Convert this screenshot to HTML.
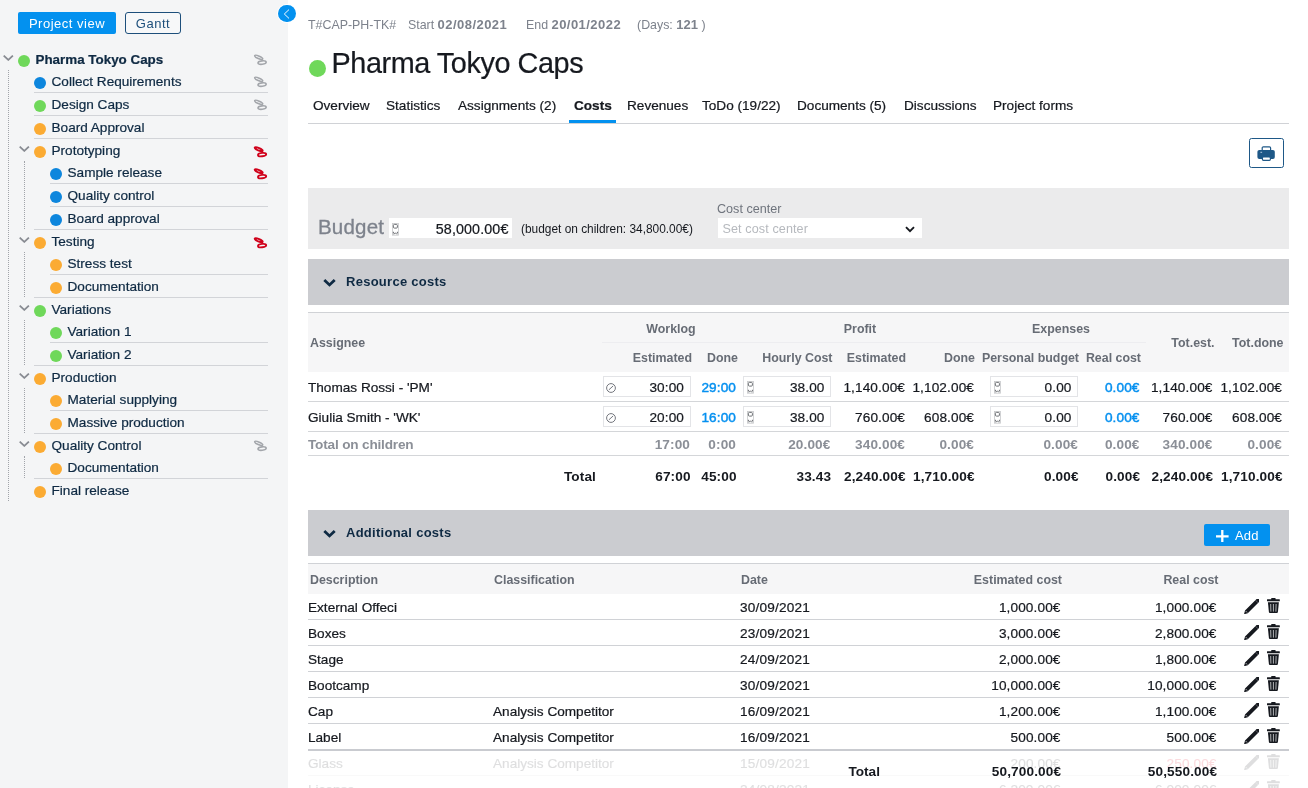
<!DOCTYPE html>
<html>
<head>
<meta charset="utf-8">
<title>Pharma Tokyo Caps - Costs</title>
<style>
*{box-sizing:border-box;margin:0;padding:0}
html,body{width:1308px;height:788px;overflow:hidden;background:#fff}
body{font-family:"Liberation Sans",sans-serif;color:#16191f;font-size:14px;position:relative}
.a{position:absolute;white-space:nowrap}
.r{text-align:right}
#w{position:absolute;left:0;top:0;width:1308px;height:788px;overflow:hidden;background:#fff;will-change:transform}
#side{position:absolute;left:0;top:0;width:288px;height:788px;background:#f4f5f6}
.btn1{position:absolute;left:18px;top:12px;width:98px;height:22px;background:#0391ef;color:#fff;border-radius:2px;font-size:13px;letter-spacing:.5px;text-align:center;line-height:24px}
.btn2{position:absolute;left:125px;top:12px;width:56px;height:22px;border:1px solid #1d4f7b;color:#1d4f7b;border-radius:3px;font-size:13px;letter-spacing:.5px;text-align:center;line-height:22px;background:#f7f8f9}
.tr{position:absolute;height:22px;white-space:nowrap;color:#0f2a43;font-size:13.6px;line-height:22px}
.dot{position:absolute;width:12px;height:12px;border-radius:50%}
.g{background:#6fd85a}.b{background:#0d86dd}.o{background:#fbab33}
.sep{position:absolute;height:1px;background:#d2d4d8}
.vd{position:absolute;width:0;border-left:1px dotted #a1a4aa}
.chev{position:absolute;width:11px;height:6px}
.lnk{position:absolute;width:15px;height:12px}
#main{position:absolute;left:0;top:0;width:1308px;height:788px}
.meta{font-size:12.4px;color:#7d828c;line-height:16px;top:17px}
.meta b{color:#7d828c;font-size:13px;letter-spacing:.45px}
.title{font-size:28.8px;line-height:34px;color:#16191f;left:331.5px;top:45.5px;letter-spacing:-.42px}
.tab{font-size:13.6px;line-height:18px;top:97px;color:#16191f}
.hl{position:absolute;height:1px;background:#d4d6d9}
.sec{position:absolute;left:308px;width:981px;height:46px;background:#cbccd0}
.sec .t{position:absolute;left:38px;top:14px;font-weight:700;font-size:13px;line-height:17px;color:#0f2a43;white-space:nowrap;letter-spacing:.27px}
.th{font-weight:700;font-size:12.4px;color:#676c75;line-height:16px}
.td{font-size:13.6px;line-height:18px;color:#16191f;-webkit-text-stroke:.22px currentColor}
.td.bold{-webkit-text-stroke:0}
.tab,.tr,.title{-webkit-text-stroke:.22px currentColor}
.td.r{letter-spacing:.12px}
.gray{color:#8b8f97}
.blue{color:#0590f0;-webkit-text-stroke:.45px #0590f0}
.bold{font-weight:700}
.num{letter-spacing:.6px;margin-left:.6px}
.inp{position:absolute;background:#fff;border:1px solid #e3e4e7;height:21px}
</style>
</head>
<body>
<div id="w">
<div id="side">
<div class="btn1">Project view</div>
<div class="btn2">Gantt</div>
<div class="dot g" style="left:18px;top:55px"></div><div class="tr" style="left:35.5px;top:48.5px;font-weight:700;font-size:13.4px">Pharma Tokyo Caps</div><svg class="chev" style="left:3.4000000000000004px;top:55px" viewBox="0 0 11 6"><path d="M0.7 0.6 L5.3 4.9 L9.9 0.6" fill="none" stroke="#888b92" stroke-width="1.75"/></svg><svg class="lnk" style="left:253px;top:54.4px" viewBox="0 0 15 12"><g fill="none" stroke="#a3a6ab" stroke-width="1.6"><ellipse cx="5.7" cy="3.3" rx="4.3" ry="1.25" transform="rotate(23 5.7 3.3)"/><ellipse cx="9.1" cy="8.6" rx="4.1" ry="1.7" transform="rotate(-6 9.1 8.6)"/></g></svg>
<div class="dot b" style="left:34px;top:77px"></div><div class="tr" style="left:51.5px;top:70.5px">Collect Requirements</div><svg class="lnk" style="left:253px;top:76.4px" viewBox="0 0 15 12"><g fill="none" stroke="#a3a6ab" stroke-width="1.6"><ellipse cx="5.7" cy="3.3" rx="4.3" ry="1.25" transform="rotate(23 5.7 3.3)"/><ellipse cx="9.1" cy="8.6" rx="4.1" ry="1.7" transform="rotate(-6 9.1 8.6)"/></g></svg><div class="sep" style="left:34px;width:234px;top:92px"></div>
<div class="dot g" style="left:34px;top:100px"></div><div class="tr" style="left:51.5px;top:93.5px">Design Caps</div><svg class="lnk" style="left:253px;top:99.4px" viewBox="0 0 15 12"><g fill="none" stroke="#a3a6ab" stroke-width="1.6"><ellipse cx="5.7" cy="3.3" rx="4.3" ry="1.25" transform="rotate(23 5.7 3.3)"/><ellipse cx="9.1" cy="8.6" rx="4.1" ry="1.7" transform="rotate(-6 9.1 8.6)"/></g></svg><div class="sep" style="left:34px;width:234px;top:115px"></div>
<div class="dot o" style="left:34px;top:123px"></div><div class="tr" style="left:51.5px;top:116.5px">Board Approval</div><div class="sep" style="left:34px;width:234px;top:138px"></div>
<div class="dot o" style="left:34px;top:146px"></div><div class="tr" style="left:51.5px;top:139.5px">Prototyping</div><svg class="chev" style="left:19.4px;top:146px" viewBox="0 0 11 6"><path d="M0.7 0.6 L5.3 4.9 L9.9 0.6" fill="none" stroke="#888b92" stroke-width="1.75"/></svg><svg class="lnk" style="left:253px;top:145.9px" viewBox="0 0 15 12"><g fill="none" stroke="#d0021b" stroke-width="1.9"><ellipse cx="5.7" cy="3.3" rx="4.3" ry="1.25" transform="rotate(23 5.7 3.3)"/><ellipse cx="9.1" cy="8.6" rx="4.1" ry="1.7" transform="rotate(-6 9.1 8.6)"/></g></svg>
<div class="dot b" style="left:50px;top:168px"></div><div class="tr" style="left:67.5px;top:161.5px">Sample release</div><svg class="lnk" style="left:253px;top:167.9px" viewBox="0 0 15 12"><g fill="none" stroke="#d0021b" stroke-width="1.9"><ellipse cx="5.7" cy="3.3" rx="4.3" ry="1.25" transform="rotate(23 5.7 3.3)"/><ellipse cx="9.1" cy="8.6" rx="4.1" ry="1.7" transform="rotate(-6 9.1 8.6)"/></g></svg><div class="sep" style="left:50px;width:218px;top:183px"></div>
<div class="dot b" style="left:50px;top:191px"></div><div class="tr" style="left:67.5px;top:184.5px">Quality control</div><div class="sep" style="left:50px;width:218px;top:206px"></div>
<div class="dot b" style="left:50px;top:214px"></div><div class="tr" style="left:67.5px;top:207.5px">Board approval</div><div class="sep" style="left:34px;width:234px;top:229px"></div>
<div class="dot o" style="left:34px;top:237px"></div><div class="tr" style="left:51.5px;top:230.5px">Testing</div><svg class="chev" style="left:19.4px;top:237px" viewBox="0 0 11 6"><path d="M0.7 0.6 L5.3 4.9 L9.9 0.6" fill="none" stroke="#888b92" stroke-width="1.75"/></svg><svg class="lnk" style="left:253px;top:236.9px" viewBox="0 0 15 12"><g fill="none" stroke="#d0021b" stroke-width="1.9"><ellipse cx="5.7" cy="3.3" rx="4.3" ry="1.25" transform="rotate(23 5.7 3.3)"/><ellipse cx="9.1" cy="8.6" rx="4.1" ry="1.7" transform="rotate(-6 9.1 8.6)"/></g></svg>
<div class="dot o" style="left:50px;top:259px"></div><div class="tr" style="left:67.5px;top:252.5px">Stress test</div><div class="sep" style="left:50px;width:218px;top:274px"></div>
<div class="dot o" style="left:50px;top:282px"></div><div class="tr" style="left:67.5px;top:275.5px">Documentation</div><div class="sep" style="left:34px;width:234px;top:297px"></div>
<div class="dot g" style="left:34px;top:305px"></div><div class="tr" style="left:51.5px;top:298.5px">Variations</div><svg class="chev" style="left:19.4px;top:305px" viewBox="0 0 11 6"><path d="M0.7 0.6 L5.3 4.9 L9.9 0.6" fill="none" stroke="#888b92" stroke-width="1.75"/></svg>
<div class="dot g" style="left:50px;top:327px"></div><div class="tr" style="left:67.5px;top:320.5px">Variation 1</div><div class="sep" style="left:50px;width:218px;top:342px"></div>
<div class="dot g" style="left:50px;top:350px"></div><div class="tr" style="left:67.5px;top:343.5px">Variation 2</div><div class="sep" style="left:34px;width:234px;top:365px"></div>
<div class="dot o" style="left:34px;top:373px"></div><div class="tr" style="left:51.5px;top:366.5px">Production</div><svg class="chev" style="left:19.4px;top:373px" viewBox="0 0 11 6"><path d="M0.7 0.6 L5.3 4.9 L9.9 0.6" fill="none" stroke="#888b92" stroke-width="1.75"/></svg>
<div class="dot o" style="left:50px;top:395px"></div><div class="tr" style="left:67.5px;top:388.5px">Material supplying</div><div class="sep" style="left:50px;width:218px;top:410px"></div>
<div class="dot o" style="left:50px;top:418px"></div><div class="tr" style="left:67.5px;top:411.5px">Massive production</div><div class="sep" style="left:34px;width:234px;top:433px"></div>
<div class="dot o" style="left:34px;top:441px"></div><div class="tr" style="left:51.5px;top:434.5px">Quality Control</div><svg class="chev" style="left:19.4px;top:441px" viewBox="0 0 11 6"><path d="M0.7 0.6 L5.3 4.9 L9.9 0.6" fill="none" stroke="#888b92" stroke-width="1.75"/></svg><svg class="lnk" style="left:253px;top:440.4px" viewBox="0 0 15 12"><g fill="none" stroke="#a3a6ab" stroke-width="1.6"><ellipse cx="5.7" cy="3.3" rx="4.3" ry="1.25" transform="rotate(23 5.7 3.3)"/><ellipse cx="9.1" cy="8.6" rx="4.1" ry="1.7" transform="rotate(-6 9.1 8.6)"/></g></svg>
<div class="dot o" style="left:50px;top:463px"></div><div class="tr" style="left:67.5px;top:456.5px">Documentation</div><div class="sep" style="left:34px;width:234px;top:478px"></div>
<div class="dot o" style="left:34px;top:486px"></div><div class="tr" style="left:51.5px;top:479.5px">Final release</div>
<div class="vd" style="left:8px;top:70px;height:431px"></div><div class="vd" style="left:24px;top:161px;height:68px"></div><div class="vd" style="left:24px;top:252px;height:45px"></div><div class="vd" style="left:24px;top:320px;height:45px"></div><div class="vd" style="left:24px;top:388px;height:45px"></div><div class="vd" style="left:24px;top:456px;height:22px"></div></div>
<div class="a" style="left:278.2px;top:4.7px;width:17.6px;height:17.5px;border-radius:50%;background:#0391ef;box-shadow:0 0 0 1px #fff"></div><svg class="a" style="left:282px;top:8.6px;width:10px;height:10px" viewBox="0 0 10 10"><path d="M7 0.6 L2.3 5 L7 9.4" fill="none" stroke="#fff" stroke-width=".95"/></svg>
<div class="a meta" style="left:308px">T#CAP-PH-TK#</div><div class="a meta" style="left:408px">Start <b>02/08/2021</b></div><div class="a meta" style="left:526px">End <b>20/01/2022</b></div><div class="a meta" style="left:637px">(Days: <b style="letter-spacing:0">121</b> )</div>
<div class="dot g" style="left:309px;top:59.5px;width:17px;height:17px"></div><div class="a title">Pharma Tokyo Caps</div>
<div class="a tab" style="left:313px">Overview</div><div class="a tab" style="left:386px">Statistics</div><div class="a tab" style="left:458px">Assignments (2)</div><div class="a tab" style="left:574px;font-weight:700">Costs</div><div class="a tab" style="left:627px">Revenues</div><div class="a tab" style="left:702px">ToDo (19/22)</div><div class="a tab" style="left:797px">Documents (5)</div><div class="a tab" style="left:904px">Discussions</div><div class="a tab" style="left:993px">Project forms</div><div class="hl" style="left:308px;width:981px;top:123px;background:#d0d2d6"></div><div class="a" style="left:569px;top:120px;width:47px;height:3px;background:#0391ef"></div>
<div class="a" style="left:1249px;top:138px;width:35px;height:30px;border:1px solid #1e5887;border-radius:2.5px;background:#fff"></div><svg class="a" style="left:1257px;top:146px;width:18px;height:15px" viewBox="0 0 18 15"><rect x="5.2" y="0.8" width="8.4" height="4" rx="1.1" fill="#fff" stroke="#1e5887" stroke-width="1.2"/><rect x="0.4" y="3.9" width="17.4" height="9" rx="1.9" fill="#1e5887"/><rect x="5.4" y="10.9" width="8" height="3.4" rx="1" fill="#fff" stroke="#1e5887" stroke-width="1.2"/><rect x="3.4" y="5.8" width="1.7" height=".9" fill="#c5d8e8"/></svg>
<div class="a" style="left:308px;top:188px;width:981px;height:61px;background:#ebebec"></div><div class="a" style="left:318px;top:213.5px;font-size:20.5px;line-height:26px;color:#7d828c;letter-spacing:.2px;-webkit-text-stroke:.3px #7d828c">Budget</div><div class="a" style="left:389px;top:218px;width:123px;height:20px;background:#fff"></div><svg class="a" style="left:392.1px;top:223px;width:6.8px;height:12.6px" viewBox="0 0 6.8 12.6"><rect x=".4" y=".4" width="6" height="11.8" fill="none" stroke="#c6c7c9" stroke-width=".8"/><rect x="1.4" y="1.4" width="4" height="3.7" rx="1" fill="none" stroke="#66696e" stroke-width=".95"/><path d="M1.4 8.8 V10.5 M5.4 8.8 V10.5 M1.9 11.4 L3.4 9.8 L4.9 11.4" fill="none" stroke="#66696e" stroke-width="1"/></svg><div class="a td r" style="left:389px;width:119.5px;top:219.5px;font-size:14.3px">58,000.00€</div><div class="a" style="left:521px;top:222px;font-size:11.9px;line-height:14px;color:#16191f">(budget on children: 34,800.00€)</div><div class="a" style="left:717px;top:201px;font-size:12.6px;line-height:16px;color:#6f747d">Cost center</div><div class="a" style="left:718px;top:218px;width:204px;height:20px;background:#fff"></div><div class="a" style="left:722.5px;top:221px;font-size:12.6px;line-height:16px;color:#b6b9be;letter-spacing:.1px">Set cost center</div><svg class="a" style="left:905px;top:225.5px;width:10px;height:7px" viewBox="0 0 10 7"><path d="M1 1.2 L5 5.2 L9 1.2" fill="none" stroke="#16191f" stroke-width="1.9"/></svg>
<div class="sec" style="top:259px"><svg class="a" style="left:14.5px;top:19px;width:13px;height:9px" viewBox="0 0 13 9"><path d="M1.3 1.9 L6.5 6.9 L11.7 1.9" fill="none" stroke="#0f2a43" stroke-width="2.8"/></svg><div class="t">Resource costs</div></div>
<div class="hl" style="left:308px;width:981px;top:312px;background:#d0d2d6"></div><div class="a" style="left:308px;top:313px;width:981px;height:59px;background:#f6f6f7"></div><div class="hl" style="left:602px;width:544px;top:342px;background:#ededf0"></div><div class="a th" style="left:310px;top:335px">Assignee</div><div class="a th" style="left:571px;width:200px;text-align:center;top:321px">Worklog</div><div class="a th" style="left:760px;width:200px;text-align:center;top:321px">Profit</div><div class="a th" style="left:961px;width:200px;text-align:center;top:321px">Expenses</div><div class="a th r" style="left:1014.5px;width:200px;top:335px">Tot.est.</div><div class="a th r" style="left:1083.5px;width:200px;top:335px">Tot.done</div><div class="a th r" style="left:492px;width:200px;top:349.5px">Estimated</div><div class="a th r" style="left:538px;width:200px;top:349.5px">Done</div><div class="a th r" style="left:632.5px;width:200px;top:349.5px">Hourly Cost</div><div class="a th r" style="left:706px;width:200px;top:349.5px">Estimated</div><div class="a th r" style="left:775px;width:200px;top:349.5px">Done</div><div class="a th r" style="left:879px;width:200px;top:349.5px">Personal budget</div><div class="a th r" style="left:941px;width:200px;top:349.5px">Real cost</div>
<div class="a td " style="left:308px;top:378.5px">Thomas Rossi - 'PM'</div><div class="inp" style="left:603px;top:376px;width:88px"></div><svg class="a" style="left:606px;top:382.5px;width:10px;height:10px" viewBox="0 0 10 10"><circle cx="5" cy="5" r="4.4" fill="none" stroke="#74777e" stroke-width="1"/><path d="M2.8 6.9 L7.2 2.9" stroke="#74777e" stroke-width="1" fill="none"/></svg><div class="a td r " style="left:484px;width:200px;top:378.5px">30:00</div><div class="a td r blue" style="left:536px;width:200px;top:378.5px">29:00</div><div class="inp" style="left:743px;top:376px;width:88px"></div><svg class="a" style="left:747px;top:381.2px;width:6.8px;height:12.6px" viewBox="0 0 6.8 12.6"><rect x=".4" y=".4" width="6" height="11.8" fill="none" stroke="#c6c7c9" stroke-width=".8"/><rect x="1.4" y="1.4" width="4" height="3.7" rx="1" fill="none" stroke="#66696e" stroke-width=".95"/><path d="M1.4 8.8 V10.5 M5.4 8.8 V10.5 M1.9 11.4 L3.4 9.8 L4.9 11.4" fill="none" stroke="#66696e" stroke-width="1"/></svg><div class="a td r " style="left:624.5px;width:200px;top:378.5px">38.00</div><div class="a td r " style="left:705px;width:200px;top:378.5px">1,140.00€</div><div class="a td r " style="left:774px;width:200px;top:378.5px">1,102.00€</div><div class="inp" style="left:990px;top:376px;width:88px"></div><svg class="a" style="left:994px;top:381.2px;width:6.8px;height:12.6px" viewBox="0 0 6.8 12.6"><rect x=".4" y=".4" width="6" height="11.8" fill="none" stroke="#c6c7c9" stroke-width=".8"/><rect x="1.4" y="1.4" width="4" height="3.7" rx="1" fill="none" stroke="#66696e" stroke-width=".95"/><path d="M1.4 8.8 V10.5 M5.4 8.8 V10.5 M1.9 11.4 L3.4 9.8 L4.9 11.4" fill="none" stroke="#66696e" stroke-width="1"/></svg><div class="a td r " style="left:871.5px;width:200px;top:378.5px">0.00</div><div class="a td r blue" style="left:939.5px;width:200px;top:378.5px">0.00€</div><div class="a td r " style="left:1012.5px;width:200px;top:378.5px">1,140.00€</div><div class="a td r " style="left:1082px;width:200px;top:378.5px">1,102.00€</div>
<div class="hl" style="left:308px;width:981px;top:401px"></div><div class="a td " style="left:308px;top:408.5px">Giulia Smith - 'WK'</div><div class="inp" style="left:603px;top:406px;width:88px"></div><svg class="a" style="left:606px;top:412.5px;width:10px;height:10px" viewBox="0 0 10 10"><circle cx="5" cy="5" r="4.4" fill="none" stroke="#74777e" stroke-width="1"/><path d="M2.8 6.9 L7.2 2.9" stroke="#74777e" stroke-width="1" fill="none"/></svg><div class="a td r " style="left:484px;width:200px;top:408.5px">20:00</div><div class="a td r blue" style="left:536px;width:200px;top:408.5px">16:00</div><div class="inp" style="left:743px;top:406px;width:88px"></div><svg class="a" style="left:747px;top:411.2px;width:6.8px;height:12.6px" viewBox="0 0 6.8 12.6"><rect x=".4" y=".4" width="6" height="11.8" fill="none" stroke="#c6c7c9" stroke-width=".8"/><rect x="1.4" y="1.4" width="4" height="3.7" rx="1" fill="none" stroke="#66696e" stroke-width=".95"/><path d="M1.4 8.8 V10.5 M5.4 8.8 V10.5 M1.9 11.4 L3.4 9.8 L4.9 11.4" fill="none" stroke="#66696e" stroke-width="1"/></svg><div class="a td r " style="left:624.5px;width:200px;top:408.5px">38.00</div><div class="a td r " style="left:705px;width:200px;top:408.5px">760.00€</div><div class="a td r " style="left:774px;width:200px;top:408.5px">608.00€</div><div class="inp" style="left:990px;top:406px;width:88px"></div><svg class="a" style="left:994px;top:411.2px;width:6.8px;height:12.6px" viewBox="0 0 6.8 12.6"><rect x=".4" y=".4" width="6" height="11.8" fill="none" stroke="#c6c7c9" stroke-width=".8"/><rect x="1.4" y="1.4" width="4" height="3.7" rx="1" fill="none" stroke="#66696e" stroke-width=".95"/><path d="M1.4 8.8 V10.5 M5.4 8.8 V10.5 M1.9 11.4 L3.4 9.8 L4.9 11.4" fill="none" stroke="#66696e" stroke-width="1"/></svg><div class="a td r " style="left:871.5px;width:200px;top:408.5px">0.00</div><div class="a td r blue" style="left:939.5px;width:200px;top:408.5px">0.00€</div><div class="a td r " style="left:1012.5px;width:200px;top:408.5px">760.00€</div><div class="a td r " style="left:1082px;width:200px;top:408.5px">608.00€</div>
<div class="hl" style="left:308px;width:981px;top:431px"></div><div class="a td gray bold" style="left:308px;top:435.5px;letter-spacing:-.18px">Total on children</div><div class="a td r gray bold" style="left:490px;width:200px;top:435.5px">17:00</div><div class="a td r gray bold" style="left:536px;width:200px;top:435.5px">0:00</div><div class="a td r gray bold" style="left:630.5px;width:200px;top:435.5px">20.00€</div><div class="a td r gray bold" style="left:705px;width:200px;top:435.5px">340.00€</div><div class="a td r gray bold" style="left:774px;width:200px;top:435.5px">0.00€</div><div class="a td r gray bold" style="left:878px;width:200px;top:435.5px">0.00€</div><div class="a td r gray bold" style="left:939.5px;width:200px;top:435.5px">0.00€</div><div class="a td r gray bold" style="left:1012.5px;width:200px;top:435.5px">340.00€</div><div class="a td r gray bold" style="left:1082px;width:200px;top:435.5px">0.00€</div><div class="hl" style="left:308px;width:981px;top:455px"></div>
<div class="a td r bold" style="left:396px;width:200px;top:467.5px">Total</div><div class="a td r bold num" style="left:490px;width:200px;top:467.5px">67:00</div><div class="a td r bold num" style="left:536px;width:200px;top:467.5px">45:00</div><div class="a td r bold num" style="left:630.5px;width:200px;top:467.5px">33.43</div><div class="a td r bold num" style="left:705px;width:200px;top:467.5px">2,240.00€</div><div class="a td r bold num" style="left:774px;width:200px;top:467.5px">1,710.00€</div><div class="a td r bold num" style="left:878px;width:200px;top:467.5px">0.00€</div><div class="a td r bold num" style="left:939.5px;width:200px;top:467.5px">0.00€</div><div class="a td r bold num" style="left:1012.5px;width:200px;top:467.5px">2,240.00€</div><div class="a td r bold num" style="left:1082px;width:200px;top:467.5px">1,710.00€</div>
<div class="sec" style="top:510px"><svg class="a" style="left:14.5px;top:19px;width:13px;height:9px" viewBox="0 0 13 9"><path d="M1.3 1.9 L6.5 6.9 L11.7 1.9" fill="none" stroke="#0f2a43" stroke-width="2.8"/></svg><div class="t">Additional costs</div><div class="a" style="left:896px;top:14px;width:66px;height:22px;background:#0391ef;border-radius:2px"></div><svg class="a" style="left:908px;top:19.7px;width:12.6px;height:12.6px" viewBox="0 0 12.6 12.6"><path d="M6.3 0 V12.6 M0 6.3 H12.6" stroke="#fff" stroke-width="2.3"/></svg><div class="a" style="left:927px;top:17.5px;font-size:13px;line-height:16px;color:#fff;letter-spacing:.2px">Add</div></div>
<div class="hl" style="left:308px;width:981px;top:563px;background:#d0d2d6"></div><div class="a" style="left:308px;top:564px;width:981px;height:30px;background:#f6f6f7"></div><div class="a th" style="left:310px;top:571.5px">Description</div><div class="a th" style="left:494px;top:571.5px">Classification</div><div class="a th" style="left:741px;top:571.5px">Date</div><div class="a th r" style="left:862px;width:200px;top:571.5px">Estimated cost</div><div class="a th r" style="left:1018.5px;width:200px;top:571.5px">Real cost</div>
<div class="a td " style="left:308px;top:598.5px">External Offeci</div><div class="a td" style="left:740px;top:598.5px;letter-spacing:.2px">30/09/2021</div><div class="a td r " style="left:860.5px;width:200px;top:598.5px">1,000.00€</div><div class="a td r" style="left:1016.5px;width:200px;top:598.5px">1,000.00€</div><svg class="a" style="left:1244px;top:598.5px;width:15.3px;height:15.3px;opacity:1" viewBox="0 0 15.3 15.3"><path d="M0 15.3 L1.03 11.52 L12.34 0.2 A1.95 1.95 0 0 1 15.1 2.96 L3.78 14.27 Z" fill="#16191f"/><path d="M1.95 12.3 L3.0 13.35" stroke="#fff" stroke-width=".9"/><path d="M11.42 1.12 L14.18 3.88" stroke="#8d9096" stroke-width=".55"/></svg><svg class="a" style="left:1266.9px;top:598.0px;width:12.8px;height:15px;opacity:1" viewBox="0 0 12.8 15"><path d="M4.2 1.2 V0.5 Q4.2 0 4.7 0 H8.1 Q8.6 0 8.6 0.5 V1.2 H12.4 Q12.8 1.2 12.8 1.6 V3.3 H0 V1.6 Q0 1.2 0.4 1.2 Z" fill="#16191f"/><path d="M0.9 4.2 H11.9 L10.9 14.1 Q10.8 15 9.9 15 H2.9 Q2 15 1.9 14.1 Z" fill="#16191f"/><path d="M3.7 6 L3.9 13.6 M6.4 6 V13.6 M9.1 6 L8.9 13.6" stroke="#e8e9eb" stroke-width=".75"/></svg><div class="hl" style="left:308px;width:981px;top:619px;background:#d0d2d6"></div>
<div class="a td " style="left:308px;top:624.5px">Boxes</div><div class="a td" style="left:740px;top:624.5px;letter-spacing:.2px">23/09/2021</div><div class="a td r " style="left:860.5px;width:200px;top:624.5px">3,000.00€</div><div class="a td r" style="left:1016.5px;width:200px;top:624.5px">2,800.00€</div><svg class="a" style="left:1244px;top:624.5px;width:15.3px;height:15.3px;opacity:1" viewBox="0 0 15.3 15.3"><path d="M0 15.3 L1.03 11.52 L12.34 0.2 A1.95 1.95 0 0 1 15.1 2.96 L3.78 14.27 Z" fill="#16191f"/><path d="M1.95 12.3 L3.0 13.35" stroke="#fff" stroke-width=".9"/><path d="M11.42 1.12 L14.18 3.88" stroke="#8d9096" stroke-width=".55"/></svg><svg class="a" style="left:1266.9px;top:624.0px;width:12.8px;height:15px;opacity:1" viewBox="0 0 12.8 15"><path d="M4.2 1.2 V0.5 Q4.2 0 4.7 0 H8.1 Q8.6 0 8.6 0.5 V1.2 H12.4 Q12.8 1.2 12.8 1.6 V3.3 H0 V1.6 Q0 1.2 0.4 1.2 Z" fill="#16191f"/><path d="M0.9 4.2 H11.9 L10.9 14.1 Q10.8 15 9.9 15 H2.9 Q2 15 1.9 14.1 Z" fill="#16191f"/><path d="M3.7 6 L3.9 13.6 M6.4 6 V13.6 M9.1 6 L8.9 13.6" stroke="#e8e9eb" stroke-width=".75"/></svg><div class="hl" style="left:308px;width:981px;top:645px;background:#d0d2d6"></div>
<div class="a td " style="left:308px;top:650.5px">Stage</div><div class="a td" style="left:740px;top:650.5px;letter-spacing:.2px">24/09/2021</div><div class="a td r " style="left:860.5px;width:200px;top:650.5px">2,000.00€</div><div class="a td r" style="left:1016.5px;width:200px;top:650.5px">1,800.00€</div><svg class="a" style="left:1244px;top:650.5px;width:15.3px;height:15.3px;opacity:1" viewBox="0 0 15.3 15.3"><path d="M0 15.3 L1.03 11.52 L12.34 0.2 A1.95 1.95 0 0 1 15.1 2.96 L3.78 14.27 Z" fill="#16191f"/><path d="M1.95 12.3 L3.0 13.35" stroke="#fff" stroke-width=".9"/><path d="M11.42 1.12 L14.18 3.88" stroke="#8d9096" stroke-width=".55"/></svg><svg class="a" style="left:1266.9px;top:650.0px;width:12.8px;height:15px;opacity:1" viewBox="0 0 12.8 15"><path d="M4.2 1.2 V0.5 Q4.2 0 4.7 0 H8.1 Q8.6 0 8.6 0.5 V1.2 H12.4 Q12.8 1.2 12.8 1.6 V3.3 H0 V1.6 Q0 1.2 0.4 1.2 Z" fill="#16191f"/><path d="M0.9 4.2 H11.9 L10.9 14.1 Q10.8 15 9.9 15 H2.9 Q2 15 1.9 14.1 Z" fill="#16191f"/><path d="M3.7 6 L3.9 13.6 M6.4 6 V13.6 M9.1 6 L8.9 13.6" stroke="#e8e9eb" stroke-width=".75"/></svg><div class="hl" style="left:308px;width:981px;top:671px;background:#d0d2d6"></div>
<div class="a td " style="left:308px;top:676.5px">Bootcamp</div><div class="a td" style="left:740px;top:676.5px;letter-spacing:.2px">30/09/2021</div><div class="a td r " style="left:860.5px;width:200px;top:676.5px">10,000.00€</div><div class="a td r" style="left:1016.5px;width:200px;top:676.5px">10,000.00€</div><svg class="a" style="left:1244px;top:676.5px;width:15.3px;height:15.3px;opacity:1" viewBox="0 0 15.3 15.3"><path d="M0 15.3 L1.03 11.52 L12.34 0.2 A1.95 1.95 0 0 1 15.1 2.96 L3.78 14.27 Z" fill="#16191f"/><path d="M1.95 12.3 L3.0 13.35" stroke="#fff" stroke-width=".9"/><path d="M11.42 1.12 L14.18 3.88" stroke="#8d9096" stroke-width=".55"/></svg><svg class="a" style="left:1266.9px;top:676.0px;width:12.8px;height:15px;opacity:1" viewBox="0 0 12.8 15"><path d="M4.2 1.2 V0.5 Q4.2 0 4.7 0 H8.1 Q8.6 0 8.6 0.5 V1.2 H12.4 Q12.8 1.2 12.8 1.6 V3.3 H0 V1.6 Q0 1.2 0.4 1.2 Z" fill="#16191f"/><path d="M0.9 4.2 H11.9 L10.9 14.1 Q10.8 15 9.9 15 H2.9 Q2 15 1.9 14.1 Z" fill="#16191f"/><path d="M3.7 6 L3.9 13.6 M6.4 6 V13.6 M9.1 6 L8.9 13.6" stroke="#e8e9eb" stroke-width=".75"/></svg><div class="hl" style="left:308px;width:981px;top:697px;background:#d0d2d6"></div>
<div class="a td " style="left:308px;top:702.5px">Cap</div><div class="a td " style="left:493px;top:702.5px">Analysis Competitor</div><div class="a td" style="left:740px;top:702.5px;letter-spacing:.2px">16/09/2021</div><div class="a td r " style="left:860.5px;width:200px;top:702.5px">1,200.00€</div><div class="a td r" style="left:1016.5px;width:200px;top:702.5px">1,100.00€</div><svg class="a" style="left:1244px;top:702.5px;width:15.3px;height:15.3px;opacity:1" viewBox="0 0 15.3 15.3"><path d="M0 15.3 L1.03 11.52 L12.34 0.2 A1.95 1.95 0 0 1 15.1 2.96 L3.78 14.27 Z" fill="#16191f"/><path d="M1.95 12.3 L3.0 13.35" stroke="#fff" stroke-width=".9"/><path d="M11.42 1.12 L14.18 3.88" stroke="#8d9096" stroke-width=".55"/></svg><svg class="a" style="left:1266.9px;top:702.0px;width:12.8px;height:15px;opacity:1" viewBox="0 0 12.8 15"><path d="M4.2 1.2 V0.5 Q4.2 0 4.7 0 H8.1 Q8.6 0 8.6 0.5 V1.2 H12.4 Q12.8 1.2 12.8 1.6 V3.3 H0 V1.6 Q0 1.2 0.4 1.2 Z" fill="#16191f"/><path d="M0.9 4.2 H11.9 L10.9 14.1 Q10.8 15 9.9 15 H2.9 Q2 15 1.9 14.1 Z" fill="#16191f"/><path d="M3.7 6 L3.9 13.6 M6.4 6 V13.6 M9.1 6 L8.9 13.6" stroke="#e8e9eb" stroke-width=".75"/></svg><div class="hl" style="left:308px;width:981px;top:723px;background:#d0d2d6"></div>
<div class="a td " style="left:308px;top:728.5px">Label</div><div class="a td " style="left:493px;top:728.5px">Analysis Competitor</div><div class="a td" style="left:740px;top:728.5px;letter-spacing:.2px">16/09/2021</div><div class="a td r " style="left:860.5px;width:200px;top:728.5px">500.00€</div><div class="a td r" style="left:1016.5px;width:200px;top:728.5px">500.00€</div><svg class="a" style="left:1244px;top:728.5px;width:15.3px;height:15.3px;opacity:1" viewBox="0 0 15.3 15.3"><path d="M0 15.3 L1.03 11.52 L12.34 0.2 A1.95 1.95 0 0 1 15.1 2.96 L3.78 14.27 Z" fill="#16191f"/><path d="M1.95 12.3 L3.0 13.35" stroke="#fff" stroke-width=".9"/><path d="M11.42 1.12 L14.18 3.88" stroke="#8d9096" stroke-width=".55"/></svg><svg class="a" style="left:1266.9px;top:728.0px;width:12.8px;height:15px;opacity:1" viewBox="0 0 12.8 15"><path d="M4.2 1.2 V0.5 Q4.2 0 4.7 0 H8.1 Q8.6 0 8.6 0.5 V1.2 H12.4 Q12.8 1.2 12.8 1.6 V3.3 H0 V1.6 Q0 1.2 0.4 1.2 Z" fill="#16191f"/><path d="M0.9 4.2 H11.9 L10.9 14.1 Q10.8 15 9.9 15 H2.9 Q2 15 1.9 14.1 Z" fill="#16191f"/><path d="M3.7 6 L3.9 13.6 M6.4 6 V13.6 M9.1 6 L8.9 13.6" stroke="#e8e9eb" stroke-width=".75"/></svg><div class="hl" style="left:308px;width:981px;top:749px;background:#d0d2d6"></div>
<div class="a td " style="left:308px;top:754.5px">Glass</div><div class="a td " style="left:493px;top:754.5px">Analysis Competitor</div><div class="a td" style="left:740px;top:754.5px;letter-spacing:.2px">15/09/2021</div><div class="a td r " style="left:860.5px;width:200px;top:754.5px">200.00€</div><div class="a td r" style="left:1016.5px;width:200px;top:754.5px;color:#e0001b">250.00€</div><svg class="a" style="left:1244px;top:754.5px;width:15.3px;height:15.3px;opacity:1" viewBox="0 0 15.3 15.3"><path d="M0 15.3 L1.03 11.52 L12.34 0.2 A1.95 1.95 0 0 1 15.1 2.96 L3.78 14.27 Z" fill="#16191f"/><path d="M1.95 12.3 L3.0 13.35" stroke="#fff" stroke-width=".9"/><path d="M11.42 1.12 L14.18 3.88" stroke="#8d9096" stroke-width=".55"/></svg><svg class="a" style="left:1266.9px;top:754.0px;width:12.8px;height:15px;opacity:1" viewBox="0 0 12.8 15"><path d="M4.2 1.2 V0.5 Q4.2 0 4.7 0 H8.1 Q8.6 0 8.6 0.5 V1.2 H12.4 Q12.8 1.2 12.8 1.6 V3.3 H0 V1.6 Q0 1.2 0.4 1.2 Z" fill="#16191f"/><path d="M0.9 4.2 H11.9 L10.9 14.1 Q10.8 15 9.9 15 H2.9 Q2 15 1.9 14.1 Z" fill="#16191f"/><path d="M3.7 6 L3.9 13.6 M6.4 6 V13.6 M9.1 6 L8.9 13.6" stroke="#e8e9eb" stroke-width=".75"/></svg><div class="hl" style="left:308px;width:981px;top:775px;background:#d0d2d6"></div>
<div class="a td " style="left:308px;top:780.5px">License</div><div class="a td" style="left:740px;top:780.5px;letter-spacing:.2px">24/08/2021</div><div class="a td r " style="left:860.5px;width:200px;top:780.5px">6,200.00€</div><div class="a td r" style="left:1016.5px;width:200px;top:780.5px">6,000.00€</div><svg class="a" style="left:1244px;top:780.5px;width:15.3px;height:15.3px;opacity:1" viewBox="0 0 15.3 15.3"><path d="M0 15.3 L1.03 11.52 L12.34 0.2 A1.95 1.95 0 0 1 15.1 2.96 L3.78 14.27 Z" fill="#16191f"/><path d="M1.95 12.3 L3.0 13.35" stroke="#fff" stroke-width=".9"/><path d="M11.42 1.12 L14.18 3.88" stroke="#8d9096" stroke-width=".55"/></svg><svg class="a" style="left:1266.9px;top:780.0px;width:12.8px;height:15px;opacity:1" viewBox="0 0 12.8 15"><path d="M4.2 1.2 V0.5 Q4.2 0 4.7 0 H8.1 Q8.6 0 8.6 0.5 V1.2 H12.4 Q12.8 1.2 12.8 1.6 V3.3 H0 V1.6 Q0 1.2 0.4 1.2 Z" fill="#16191f"/><path d="M0.9 4.2 H11.9 L10.9 14.1 Q10.8 15 9.9 15 H2.9 Q2 15 1.9 14.1 Z" fill="#16191f"/><path d="M3.7 6 L3.9 13.6 M6.4 6 V13.6 M9.1 6 L8.9 13.6" stroke="#e8e9eb" stroke-width=".75"/></svg><div class="hl" style="left:308px;width:981px;top:801px;background:#d0d2d6"></div>
<div class="a" style="left:308px;top:749px;width:981px;height:39px;background:rgba(255,255,255,.86);border-top:2px solid #c9cbd0"></div><div class="a td bold" style="left:848.5px;top:763px">Total</div><div class="a td r bold num" style="left:860.5px;width:200px;top:763px">50,700.00€</div><div class="a td r bold num" style="left:1016.5px;width:200px;top:763px">50,550.00€</div>
</div>
</body>
</html>
